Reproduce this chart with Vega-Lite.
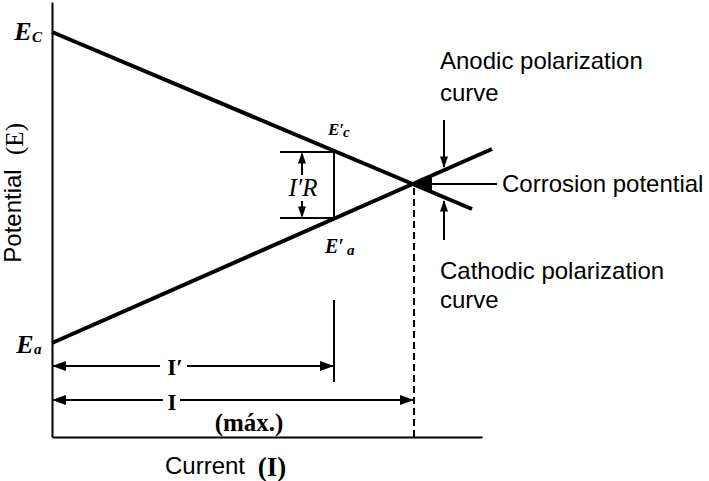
{
  "$schema": "https://vega.github.io/schema/vega-lite/v6.json",
  "width": 430,
  "height": 435,
  "autosize": "none",
  "padding": {"left": 52, "top": 2, "right": 227, "bottom": 44},
  "background": "white",
  "view": {"stroke": null},
  "config": {"axis": {"title": null, "labels": false, "ticks": false, "grid": false, "domainColor": "black", "domainWidth": 2}},
  "datasets": {
    "curves": [
      {"curve": "cathodic", "current": 0, "potential": 405},
      {"curve": "cathodic", "current": 420, "potential": 228},
      {"curve": "anodic", "current": 0, "potential": 94},
      {"curve": "anodic", "current": 440, "potential": 288}
    ],
    "segments": [
      {"part": "IR vertical", "current": 282, "potential": 218, "current2": 282, "potential2": 286},
      {"part": "IR top", "current": 228, "potential": 285, "current2": 282, "potential2": 285},
      {"part": "IR bottom", "current": 228, "potential": 219, "current2": 282, "potential2": 219},
      {"part": "IR up", "current": 250, "potential": 262, "current2": 250, "potential2": 283},
      {"part": "IR down", "current": 250, "potential": 236, "current2": 250, "potential2": 221},
      {"part": "I' limit", "current": 282, "potential": 55, "current2": 282, "potential2": 137},
      {"part": "I' left", "current": 0, "potential": 71, "current2": 108, "potential2": 71},
      {"part": "I' right", "current": 135, "potential": 71, "current2": 282, "potential2": 71},
      {"part": "I left", "current": 0, "potential": 37, "current2": 111, "potential2": 37},
      {"part": "I right", "current": 128, "potential": 37, "current2": 362, "potential2": 37},
      {"part": "anodic pointer", "current": 392, "potential": 317, "current2": 392, "potential2": 270},
      {"part": "cathodic pointer", "current": 392, "potential": 197, "current2": 392, "potential2": 236},
      {"part": "corrosion pointer", "current": 361, "potential": 253, "current2": 445, "potential2": 253}
    ],
    "dashed": [
      {"part": "I max", "current": 362, "potential": 0, "current2": 362, "potential2": 253}
    ],
    "dimHeads": [
      {"dir": "left", "current": 0, "potential": 71},
      {"dir": "right", "current": 282, "potential": 71},
      {"dir": "left", "current": 0, "potential": 37},
      {"dir": "right", "current": 362, "potential": 37}
    ],
    "smallHeads": [
      {"dir": "up", "current": 250, "potential": 285},
      {"dir": "down", "current": 250, "potential": 219},
      {"dir": "down", "current": 392, "potential": 269},
      {"dir": "up", "current": 392, "potential": 237}
    ],
    "corrHead": [
      {"dir": "left", "current": 361, "potential": 253}
    ],
    "sansText": [
      {"label": "Anodic polarization", "current": 388, "potential": 368},
      {"label": "curve", "current": 388, "potential": 336},
      {"label": "Corrosion potential", "current": 450, "potential": 245},
      {"label": "Cathodic polarization", "current": 388, "potential": 158},
      {"label": "curve", "current": 388, "potential": 129},
      {"label": "Current", "current": 113, "potential": -37}
    ],
    "yTitleSans": [{"label": "Potential", "current": -31, "potential": 221}],
    "yTitleSerif": [{"label": "(E)", "current": -29, "potential": 298}],
    "boldSerif": [
      {"label": "I′", "current": 123, "potential": 62},
      {"label": "I", "current": 120, "potential": 27}
    ],
    "maxText": [{"label": "(máx.)", "current": 197, "potential": 6}],
    "currentSymbol": [{"label": "(I)", "current": 220, "potential": -39}],
    "italicSerif": [{"label": "I′R", "current": 251, "potential": 241}],
    "bigE": [
      {"label": "E", "current": -29, "potential": 397},
      {"label": "E", "current": -27, "potential": 84}
    ],
    "primeEc": [{"label": "E′", "current": 276, "potential": 302}],
    "primeEa": [{"label": "E′", "current": 273, "potential": 184}],
    "subs": [
      {"label": "C", "current": -20, "potential": 395},
      {"label": "a", "current": -18, "potential": 83},
      {"label": "c", "current": 291, "potential": 300},
      {"label": "a", "current": 295, "potential": 182}
    ]
  },
  "encoding": {
    "x": {"field": "current", "type": "quantitative", "scale": {"domain": [0, 430], "nice": false, "zero": false}, "axis": {"title": null}},
    "y": {"field": "potential", "type": "quantitative", "scale": {"domain": [0, 435], "nice": false, "zero": false}, "axis": {"title": null}}
  },
  "layer": [
    {"data": {"name": "curves"}, "mark": {"type": "line", "color": "black", "strokeWidth": 4, "strokeCap": "butt"}, "encoding": {"detail": {"field": "curve"}}},
    {"data": {"name": "segments"}, "mark": {"type": "rule", "color": "black", "strokeWidth": 2}, "encoding": {"x2": {"field": "current2"}, "y2": {"field": "potential2"}}},
    {"data": {"name": "dashed"}, "mark": {"type": "rule", "color": "black", "strokeWidth": 2, "strokeDash": [7, 4]}, "encoding": {"x2": {"field": "current2"}, "y2": {"field": "potential2"}}},
    {"data": {"name": "dimHeads"}, "mark": {"type": "point", "filled": true, "color": "black", "opacity": 1, "size": 196, "strokeWidth": 0},
     "encoding": {"shape": {"field": "dir", "legend": null, "scale": {"domain": ["left", "right", "up", "down"], "range": ["M0,0L2,-0.7L2,0.7Z", "M0,0L-2,-0.7L-2,0.7Z", "M0,0L-0.7,2L0.7,2Z", "M0,0L-0.7,-2L0.7,-2Z"]}}}},
    {"data": {"name": "smallHeads"}, "mark": {"type": "point", "filled": true, "color": "black", "opacity": 1, "size": 130, "strokeWidth": 0},
     "encoding": {"shape": {"field": "dir", "legend": null, "scale": {"domain": ["left", "right", "up", "down"], "range": ["M0,0L2,-0.7L2,0.7Z", "M0,0L-2,-0.7L-2,0.7Z", "M0,0L-0.7,2L0.7,2Z", "M0,0L-0.7,-2L0.7,-2Z"]}}}},
    {"data": {"name": "corrHead"}, "mark": {"type": "point", "filled": true, "color": "black", "opacity": 1, "size": 361, "strokeWidth": 0},
     "encoding": {"shape": {"field": "dir", "legend": null, "scale": {"domain": ["left", "right", "up", "down"], "range": ["M0,0L2,-0.7L2,0.7Z", "M0,0L-2,-0.7L-2,0.7Z", "M0,0L-0.7,2L0.7,2Z", "M0,0L-0.7,-2L0.7,-2Z"]}}}},
    {"data": {"name": "sansText"}, "mark": {"type": "text", "font": "Liberation Sans", "fontSize": 24, "align": "left", "baseline": "alphabetic", "color": "black"}, "encoding": {"text": {"field": "label"}}},
    {"data": {"name": "yTitleSans"}, "mark": {"type": "text", "font": "Liberation Sans", "fontSize": 24, "align": "center", "baseline": "alphabetic", "angle": 270, "color": "black"}, "encoding": {"text": {"field": "label"}}},
    {"data": {"name": "yTitleSerif"}, "mark": {"type": "text", "font": "Liberation Serif", "fontSize": 25, "align": "center", "baseline": "alphabetic", "angle": 270, "color": "black"}, "encoding": {"text": {"field": "label"}}},
    {"data": {"name": "boldSerif"}, "mark": {"type": "text", "font": "Liberation Serif", "fontSize": 23, "fontWeight": "bold", "align": "center", "baseline": "alphabetic", "color": "black"}, "encoding": {"text": {"field": "label"}}},
    {"data": {"name": "maxText"}, "mark": {"type": "text", "font": "Liberation Serif", "fontSize": 25, "fontWeight": "bold", "align": "center", "baseline": "alphabetic", "color": "black"}, "encoding": {"text": {"field": "label"}}},
    {"data": {"name": "currentSymbol"}, "mark": {"type": "text", "font": "Liberation Serif", "fontSize": 27, "fontWeight": "bold", "align": "center", "baseline": "alphabetic", "color": "black"}, "encoding": {"text": {"field": "label"}}},
    {"data": {"name": "italicSerif"}, "mark": {"type": "text", "font": "Liberation Serif", "fontSize": 25, "fontStyle": "italic", "align": "center", "baseline": "alphabetic", "color": "black"}, "encoding": {"text": {"field": "label"}}},
    {"data": {"name": "bigE"}, "mark": {"type": "text", "font": "Liberation Serif", "fontSize": 26, "fontStyle": "italic", "fontWeight": "bold", "align": "center", "baseline": "alphabetic", "color": "black"}, "encoding": {"text": {"field": "label"}}},
    {"data": {"name": "primeEc"}, "mark": {"type": "text", "font": "Liberation Serif", "fontSize": 17, "fontStyle": "italic", "fontWeight": "bold", "align": "left", "baseline": "alphabetic", "color": "black"}, "encoding": {"text": {"field": "label"}}},
    {"data": {"name": "primeEa"}, "mark": {"type": "text", "font": "Liberation Serif", "fontSize": 20, "fontStyle": "italic", "fontWeight": "bold", "align": "left", "baseline": "alphabetic", "color": "black"}, "encoding": {"text": {"field": "label"}}},
    {"data": {"name": "subs"}, "mark": {"type": "text", "font": "Liberation Serif", "fontSize": 15, "fontStyle": "italic", "fontWeight": "bold", "align": "left", "baseline": "alphabetic", "color": "black"}, "encoding": {"text": {"field": "label"}}}
  ]
}
